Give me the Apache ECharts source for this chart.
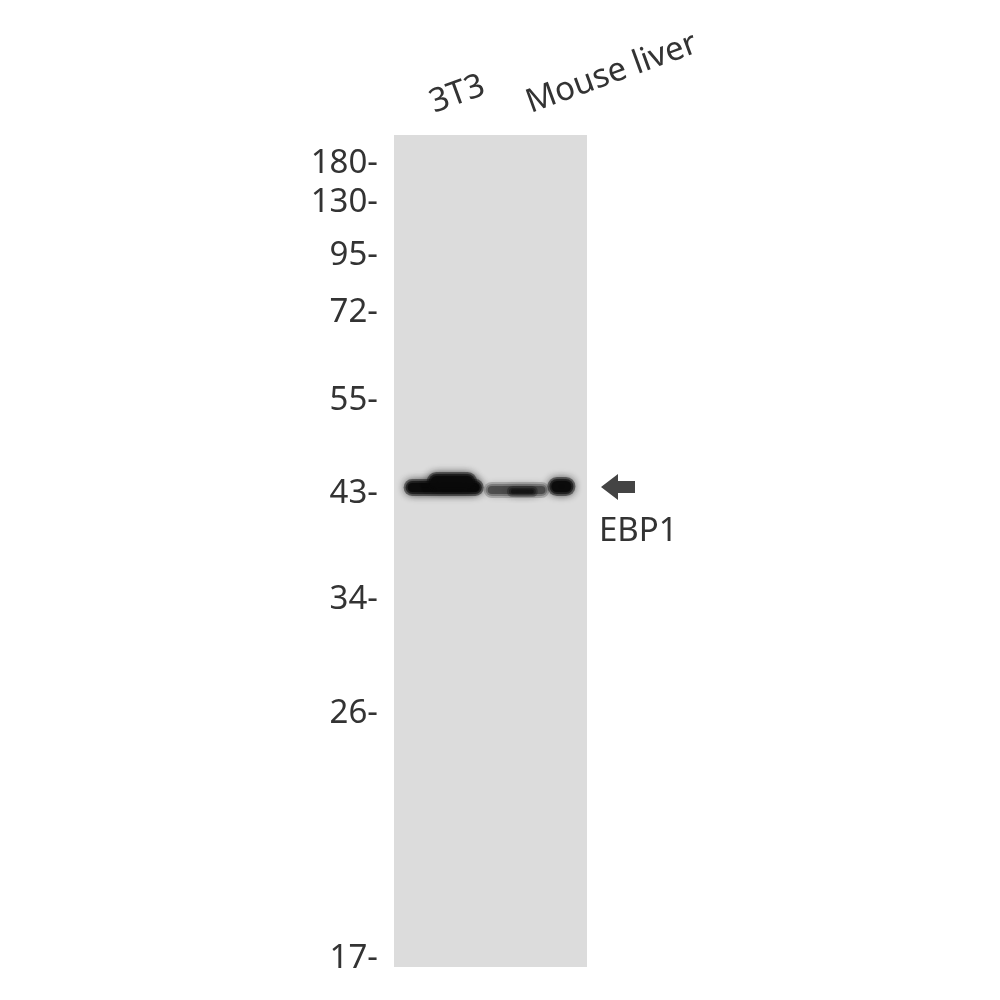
<!DOCTYPE html>
<html>
<head>
<meta charset="utf-8">
<script src="https://cdn.jsdelivr.net/npm/echarts@6/dist/echarts.min.js"></script>
<style>
  html, body { margin: 0; padding: 0; background: #fff; }
  #blot { width: 1000px; height: 1000px; }
</style>
</head>
<body>
<div id="blot"></div>
<script>
// Western blot: EBP1, 3T3 vs Mouse liver.
// y = migration distance from the top of the gel (px-like units, 0..832)
const lanes = ['3T3', 'Mouse liver'];

const markerLabels = ['180', '130', '95', '72', '55', '43', '34', '26', '17'];
const markerPos    = [26, 65, 118, 175, 263, 356, 462, 576, 821];

// signal blobs: lane, top, bottom, start / end across lane (fraction of lane width), darkness
const blobLane  = [0, 0, 1, 1, 1];
const blobTop   = [344, 337, 347, 351, 342];
const blobBot   = [361, 356, 363, 362, 361];
const blobFrom  = [-0.40, -0.16, -0.57, -0.33, 0.09];
const blobTo    = [0.43, 0.36, 0.11, -0.01, 0.38];
const blobDark  = [1.0, 1.0, 0.42, 0.6, 1.0];

const targetName = 'EBP1';
const targetPos = 352;

const FONT = 'Noto Sans';
const chart = echarts.init(document.getElementById('blot'));

const blobs = blobLane.map((l, i) => [l, blobTop[i], blobBot[i], blobFrom[i], blobTo[i], blobDark[i]]);

chart.setOption({
  animation: false,
  backgroundColor: '#ffffff',
  grid: {
    left: 394, top: 135, width: 193, height: 832,
    show: true, backgroundColor: '#dcdcdc', borderWidth: 0,
  },
  xAxis: {
    type: 'category', data: lanes, position: 'top',
    axisLine: { show: false }, axisTick: { show: false }, splitLine: { show: false },
    axisLabel: {
      rotate: 20, margin: 35, interval: 0, padding: [0, 0, 0, -12],
      fontFamily: FONT, fontSize: 33, color: '#333',
    },
  },
  yAxis: {
    type: 'value', inverse: true, min: 0, max: 832,
    axisLine: { show: false }, axisTick: { show: false }, splitLine: { show: false },
    axisLabel: {
      customValues: markerPos, margin: 16,
      // top-aligned in a 6px line: glyphs sit ~3px lower, as in the scan
      verticalAlign: 'top', lineHeight: 6,
      fontFamily: FONT, fontSize: 33, color: '#333',
      formatter: (v) => {
        const i = markerPos.indexOf(v);
        return i >= 0 ? markerLabels[i] + '-' : '';
      },
    },
  },
  series: [
    {
      name: 'bands', type: 'custom',
      data: blobs,
      encode: { x: 0, y: 1 },
      renderItem: function (params, api) {
        const p0 = api.coord([api.value(0), api.value(1)]);
        const p1 = api.coord([api.value(0), api.value(2)]);
        const laneW = api.size([1, 0])[0];
        const x0 = p0[0] + api.value(3) * laneW;
        const x1 = p0[0] + api.value(4) * laneW;
        const d = api.value(5);
        // soft edges: stacked, shrinking, blurred layers
        const layers = [[0, 0.45], [2, 0.6], [4, 0.9]].map(([s, a]) => {
          const w = Math.max(4, x1 - x0 - 2 * s);
          const h = Math.max(4, p1[1] - p0[1] - 2 * s);
          const col = 'rgba(10,10,10,' + (d * a) + ')';
          return {
            type: 'rect',
            shape: { x: (x0 + x1 - w) / 2, y: (p0[1] + p1[1] - h) / 2, width: w, height: h, r: h / 2 },
            style: { fill: col, shadowBlur: 9, shadowColor: col },
          };
        });
        return { type: 'group', children: layers };
      },
    },
    {
      // arrow + protein name next to the band
      name: 'target', type: 'custom',
      data: [[lanes.length - 1, targetPos]],
      encode: { x: 0, y: 1 },
      clip: false,
      renderItem: function (params, api) {
        const y = api.coord([api.value(0), api.value(1)])[1];
        const r = params.coordSys.x + params.coordSys.width;
        return {
          type: 'group',
          children: [
            {
              type: 'polygon',
              shape: { points: [
                [r + 14, y], [r + 31, y - 13], [r + 31, y - 6], [r + 48, y - 6],
                [r + 48, y + 6], [r + 31, y + 6], [r + 31, y + 13],
              ] },
              style: { fill: '#444' },
            },
            {
              type: 'text',
              style: {
                x: r + 12, y: y + 45, text: targetName,
                fontFamily: FONT, fontSize: 33, fill: '#333',
                verticalAlign: 'middle', align: 'left',
              },
            },
          ],
        };
      },
    },
  ],
});
</script>
</body>
</html>
